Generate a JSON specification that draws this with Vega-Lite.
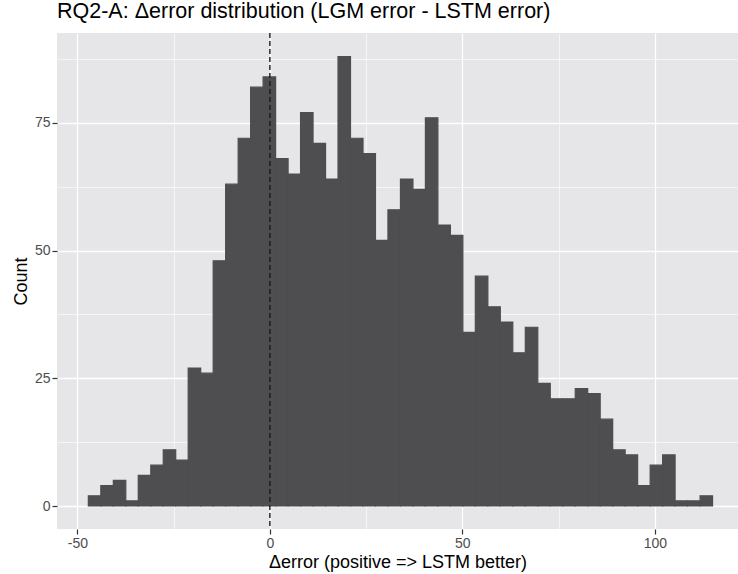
{
  "$schema": "https://vega.github.io/schema/vega-lite/v6.json",
  "width": 681,
  "height": 496,
  "autosize": {"type": "none"},
  "padding": {"left": 57, "top": 33, "right": 0, "bottom": 45},
  "background": "white",
  "title": {
    "text": "RQ2-A: Δerror distribution (LGM error - LSTM error)",
    "anchor": "start",
    "frame": "group",
    "baseline": "bottom",
    "offset": 5,
    "dy": 17,
    "fontSize": 21.5,
    "fontWeight": "normal",
    "font": "Liberation Sans",
    "color": "#000000"
  },
  "config": {
    "view": {"fill": "#E6E6E8", "stroke": null},
    "font": "Liberation Sans"
  },
  "data": {
    "values": [
      {"bin_start": -47.16, "bin_end": -43.92, "count": 2},
      {"bin_start": -43.92, "bin_end": -40.67, "count": 4},
      {"bin_start": -40.67, "bin_end": -37.43, "count": 5},
      {"bin_start": -37.43, "bin_end": -34.19, "count": 1},
      {"bin_start": -34.19, "bin_end": -30.94, "count": 6},
      {"bin_start": -30.94, "bin_end": -27.70, "count": 8},
      {"bin_start": -27.70, "bin_end": -24.46, "count": 11},
      {"bin_start": -24.46, "bin_end": -21.22, "count": 9},
      {"bin_start": -21.22, "bin_end": -17.97, "count": 27},
      {"bin_start": -17.97, "bin_end": -14.73, "count": 26},
      {"bin_start": -14.73, "bin_end": -11.49, "count": 48},
      {"bin_start": -11.49, "bin_end": -8.24, "count": 63},
      {"bin_start": -8.24, "bin_end": -5.00, "count": 72},
      {"bin_start": -5.00, "bin_end": -1.76, "count": 82},
      {"bin_start": -1.76, "bin_end": 1.49, "count": 84},
      {"bin_start": 1.49, "bin_end": 4.73, "count": 68},
      {"bin_start": 4.73, "bin_end": 7.97, "count": 65},
      {"bin_start": 7.97, "bin_end": 11.21, "count": 77},
      {"bin_start": 11.21, "bin_end": 14.46, "count": 71},
      {"bin_start": 14.46, "bin_end": 17.70, "count": 64},
      {"bin_start": 17.70, "bin_end": 20.94, "count": 88},
      {"bin_start": 20.94, "bin_end": 24.19, "count": 72},
      {"bin_start": 24.19, "bin_end": 27.43, "count": 69},
      {"bin_start": 27.43, "bin_end": 30.67, "count": 52},
      {"bin_start": 30.67, "bin_end": 33.92, "count": 58},
      {"bin_start": 33.92, "bin_end": 37.16, "count": 64},
      {"bin_start": 37.16, "bin_end": 40.40, "count": 62},
      {"bin_start": 40.40, "bin_end": 43.64, "count": 76},
      {"bin_start": 43.64, "bin_end": 46.89, "count": 55},
      {"bin_start": 46.89, "bin_end": 50.13, "count": 53},
      {"bin_start": 50.13, "bin_end": 53.37, "count": 34},
      {"bin_start": 53.37, "bin_end": 56.62, "count": 45},
      {"bin_start": 56.62, "bin_end": 59.86, "count": 39},
      {"bin_start": 59.86, "bin_end": 63.10, "count": 36},
      {"bin_start": 63.10, "bin_end": 66.35, "count": 30},
      {"bin_start": 66.35, "bin_end": 69.59, "count": 35},
      {"bin_start": 69.59, "bin_end": 72.83, "count": 24},
      {"bin_start": 72.83, "bin_end": 76.07, "count": 21},
      {"bin_start": 76.07, "bin_end": 79.32, "count": 21},
      {"bin_start": 79.32, "bin_end": 82.56, "count": 23},
      {"bin_start": 82.56, "bin_end": 85.80, "count": 22},
      {"bin_start": 85.80, "bin_end": 89.05, "count": 17},
      {"bin_start": 89.05, "bin_end": 92.29, "count": 11},
      {"bin_start": 92.29, "bin_end": 95.53, "count": 10},
      {"bin_start": 95.53, "bin_end": 98.78, "count": 4},
      {"bin_start": 98.78, "bin_end": 102.02, "count": 8},
      {"bin_start": 102.02, "bin_end": 105.26, "count": 10},
      {"bin_start": 105.26, "bin_end": 108.50, "count": 1},
      {"bin_start": 108.50, "bin_end": 111.75, "count": 1},
      {"bin_start": 111.75, "bin_end": 114.99, "count": 2}
    ]
  },
  "layer": [
    {
      "mark": {"type": "rect", "color": "#4E4E50", "stroke": "#4E4E50", "strokeWidth": 1.2},
      "encoding": {
        "x": {
          "field": "bin_start",
          "type": "quantitative",
          "scale": {"domain": [-55.3, 121.6], "nice": false, "zero": false},
          "axis": {
            "values": [-50, -25, 0, 25, 50, 75, 100],
            "title": "Δerror (positive => LSTM better)",
            "titleFontSize": 18,
            "titleFontWeight": "normal",
            "titleColor": "#000000",
            "titlePadding": 3,
            "domain": false,
            "grid": true,
            "gridColor": "#FFFFFF",
            "gridWidth": {"condition": {"test": "datum.value % 50 === 0", "value": 1.3}, "value": 0.6},
            "tickColor": "#333333",
            "tickSize": 5,
            "tickWidth": 1.2,
            "tickOpacity": {"condition": {"test": "datum.value % 50 === 0", "value": 1}, "value": 0},
            "labelExpr": "datum.value % 50 === 0 ? '' + datum.value : ''",
            "labelFontSize": 14,
            "labelColor": "#4D4D4D",
            "labelPadding": 2,
            "labelFlush": false,
            "labelOverlap": false
          }
        },
        "x2": {"field": "bin_end"},
        "y": {
          "field": "count",
          "type": "quantitative",
          "scale": {"domain": [-4.5, 92.6], "nice": false, "zero": false},
          "axis": {
            "values": [0, 12.5, 25, 37.5, 50, 62.5, 75, 87.5],
            "title": "Count",
            "titleFontSize": 18,
            "titleFontWeight": "normal",
            "titleColor": "#000000",
            "titlePadding": 4,
            "domain": false,
            "grid": true,
            "gridColor": "#FFFFFF",
            "gridWidth": {"condition": {"test": "datum.value % 25 === 0", "value": 1.3}, "value": 0.6},
            "tickColor": "#333333",
            "tickSize": 5,
            "tickWidth": 1.2,
            "tickOpacity": {"condition": {"test": "datum.value % 25 === 0", "value": 1}, "value": 0},
            "labelExpr": "datum.value % 25 === 0 ? '' + datum.value : ''",
            "labelFontSize": 14,
            "labelColor": "#4D4D4D",
            "labelPadding": 2,
            "labelFlush": false,
            "labelOverlap": false
          }
        },
        "y2": {"datum": 0}
      }
    },
    {
      "data": {"values": [{"ref": 0}]},
      "mark": {"type": "rule", "color": "#1A1A1A", "strokeWidth": 1.4, "strokeDash": [5, 3]},
      "encoding": {
        "x": {"field": "ref", "type": "quantitative"}
      }
    }
  ]
}
